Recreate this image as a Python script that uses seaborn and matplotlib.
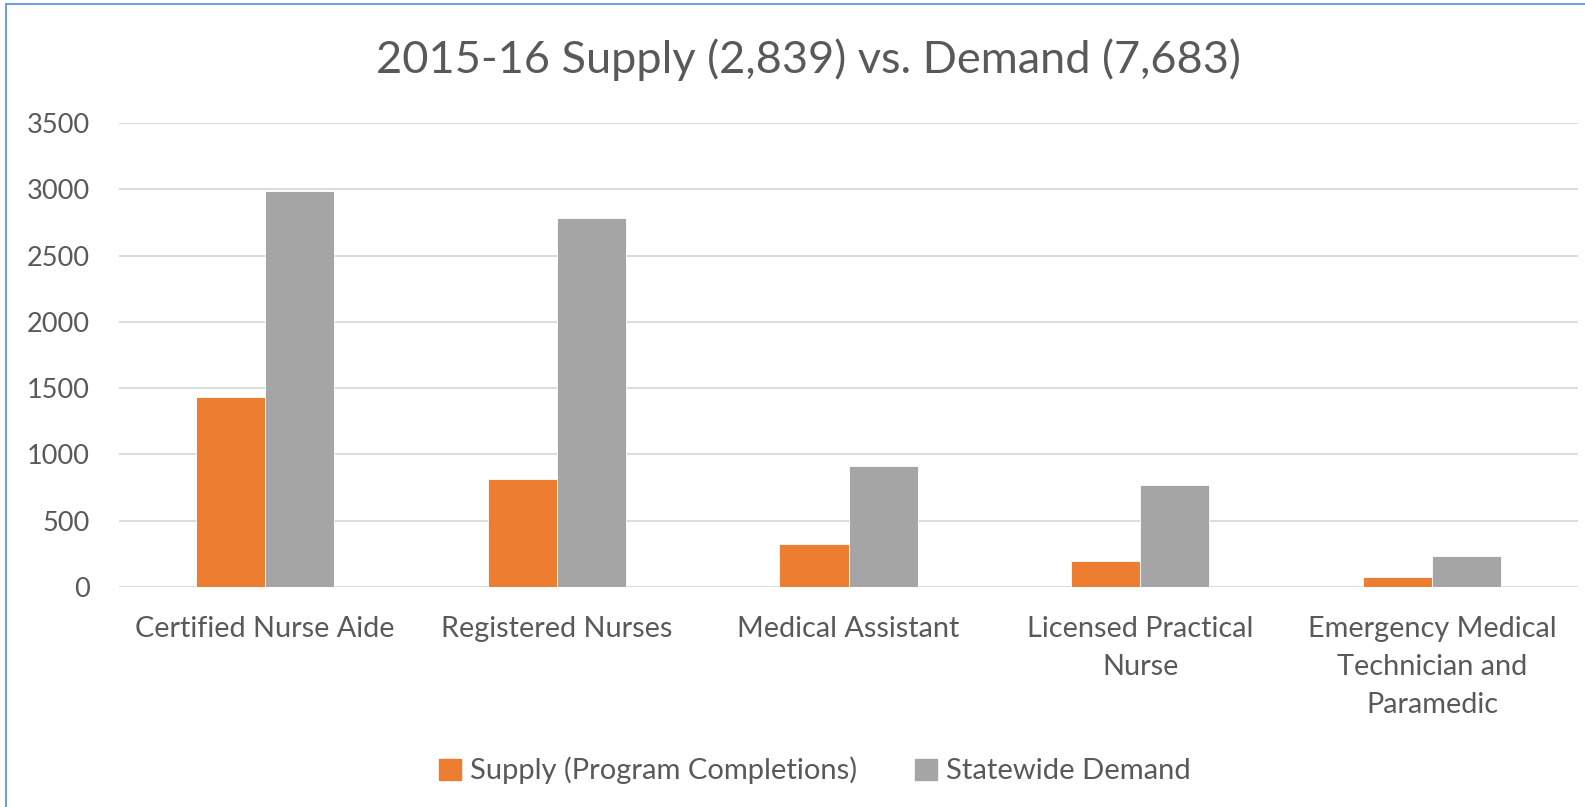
import numpy as np
import pandas as pd
import matplotlib
matplotlib.use("Agg")
import matplotlib.pyplot as plt
import seaborn as sns
from matplotlib.lines import Line2D

# data
categories = ["Certified Nurse Aide", "Registered Nurses", "Medical Assistant",
              "Licensed Practical Nurse", "Emergency Medical Technician and Paramedic"]
tick_labels = ["Certified Nurse Aide", "Registered Nurses", "Medical Assistant",
               "Licensed Practical\nNurse", "Emergency Medical\nTechnician and\nParamedic"]
supply = [1430, 812, 326, 198, 73]
demand = [2990, 2780, 912, 769, 232]
series = ["Supply (Program Completions)", "Statewide Demand"]
colors = ["#ED7D31", "#A5A5A5"]

df = pd.DataFrame({
    "category": categories * 2,
    "series": [series[0]] * len(categories) + [series[1]] * len(categories),
    "value": supply + demand,
})

sns.set_style("white")
plt.rcParams["font.family"] = ["Lato", "DejaVu Sans"]
text_col = "#595959"

fig = plt.figure(figsize=(15.85, 8.07), dpi=100)
ax = fig.add_axes([0.0751, 0.2726, 0.9205, 0.575])

sns.barplot(data=df, x="category", y="value", hue="series", order=categories,
            hue_order=series, palette=colors, width=0.474, gap=0,
            edgecolor="white", linewidth=0.6, saturation=1, ax=ax)

ax.set_ylim(0, 3500)
ax.set_xlim(-0.5, len(categories) - 0.5)
ax.set_yticks(np.arange(0, 3501, 500))
ax.yaxis.grid(True, color="#D9D9D9", linewidth=1.3)
ax.set_axisbelow(True)
for s in ax.spines.values():
    s.set_visible(False)
ax.set_xlabel("")
ax.set_ylabel("")
ax.set_xticks(range(len(categories)))
ax.set_xticklabels(tick_labels, linespacing=1.57)
ax.tick_params(axis="y", length=0, pad=21, labelsize=19.5, labelcolor=text_col)
ax.tick_params(axis="x", length=0, pad=21, labelsize=20.8, labelcolor=text_col)
for lab in ax.get_xticklabels():
    lab.set_verticalalignment("top")

ax.legend_.remove()
handles = [plt.Rectangle((0, 0), 1, 1, color=c) for c in colors]
fig.legend(handles, series, loc="center", bbox_to_anchor=(0.514, 0.045), ncol=2,
           frameon=False, fontsize=21, labelcolor=text_col, handlelength=0.75,
           handleheight=0.75, handletextpad=0.3, columnspacing=2.0)

fig.text(0.51, 0.926, "2015-16 Supply (2,839) vs. Demand (7,683)", ha="center",
         va="center", fontsize=32.5, color=text_col)

# chart border (top and left edges visible)
border = "#6FA0DC"
fig.add_artist(Line2D([0.004, 1.0], [0.9955, 0.9955], color=border, lw=1.5))
fig.add_artist(Line2D([0.004, 0.004], [0.0, 0.9955], color=border, lw=1.5))

fig.savefig("out.png", dpi=100)
